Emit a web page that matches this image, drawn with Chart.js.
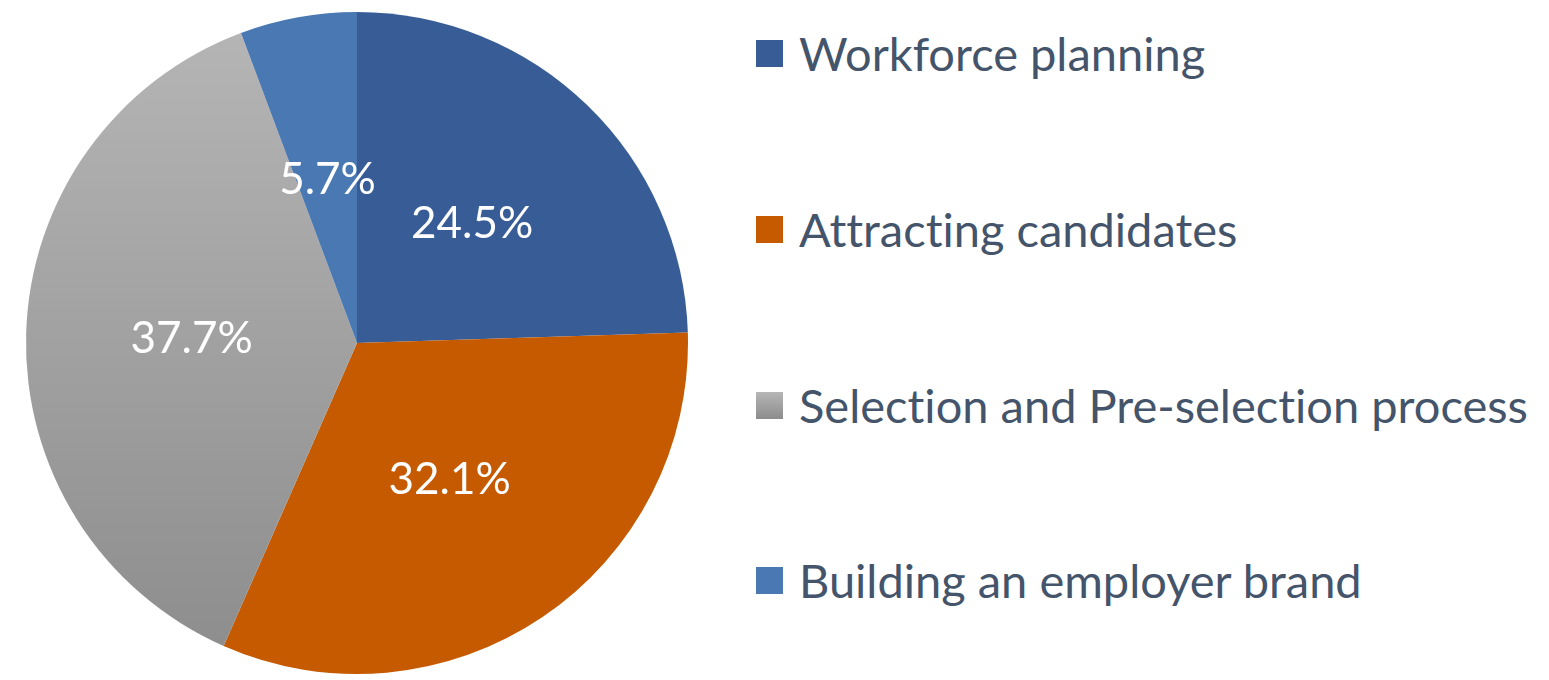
<!DOCTYPE html>
<html>
<head>
<meta charset="utf-8">
<script src="https://cdn.jsdelivr.net/npm/chart.js@4"></script>
<style>
  html, body { margin: 0; padding: 0; background: #fff; }
  body { width: 1549px; height: 680px; position: relative; overflow: hidden; font-family: Lato, "Open Sans", sans-serif; }
  #pieBox { position: absolute; left: 0; top: 0; width: 714px; height: 680px; }
  #legend { position: absolute; left: 756px; top: 0; }
  .item { position: absolute; white-space: nowrap; display: flex; align-items: center; font-size: 47px; color: #44546A; font-variant-ligatures: none; }
  .swatch { width: 27px; height: 27px; margin-right: 16px; flex: none; }
</style>
</head>
<body>
<div id="pieBox"><canvas id="pie"></canvas></div>
<div id="legend"></div>
<script>
const categories = ['Workforce planning', 'Attracting candidates', 'Selection and Pre-selection process', 'Building an employer brand'];
const shares = [24.5, 32.1, 37.7, 5.7];
const sliceColors = ['#385D96', '#C55A00', null, '#4A78B2'];

function grayGradient(ctx) {
  const g = ctx.createLinearGradient(0, 12, 0, 674);
  g.addColorStop(0, '#B6B6B6');
  g.addColorStop(1, '#8C8C8C');
  return g;
}

// draws the percentage in the middle of every slice
const sliceLabels = {
  id: 'sliceLabels',
  afterDatasetsDraw(chart) {
    const ctx = chart.ctx;
    const meta = chart.getDatasetMeta(0);
    ctx.save();
    ctx.fillStyle = '#fff';
    ctx.font = '44px Lato, "Open Sans", sans-serif';
    ctx.textAlign = 'center';
    ctx.textBaseline = 'middle';
    meta.data.forEach((arc, i) => {
      const p = arc.getCenterPoint();
      ctx.fillText(shares[i].toFixed(1) + '%', p.x, p.y);
    });
    ctx.restore();
  }
};

new Chart(document.getElementById('pie'), {
  type: 'pie',
  data: {
    labels: categories,
    datasets: [{
      data: shares,
      backgroundColor: (c) => sliceColors[c.dataIndex] || grayGradient(c.chart.ctx),
      borderWidth: 0
    }]
  },
  options: {
    responsive: true,
    maintainAspectRatio: false,
    animation: false,
    layout: { padding: { top: 12, bottom: 6, left: 26, right: 26 } },
    plugins: {
      legend: { display: false },
      tooltip: { enabled: false }
    }
  },
  plugins: [sliceLabels]
});

// legend on the right
const legend = document.getElementById('legend');
const rowY = [53, 229, 405, 580];
categories.forEach((name, i) => {
  const item = document.createElement('div');
  item.className = 'item';
  item.style.top = (rowY[i] - 28) + 'px';
  item.style.height = '56px';
  const sw = document.createElement('span');
  sw.className = 'swatch';
  sw.style.background = sliceColors[i] || 'linear-gradient(#B6B6B6, #8C8C8C)';
  const label = document.createElement('span');
  label.textContent = name;
  item.appendChild(sw);
  item.appendChild(label);
  legend.appendChild(item);
});
</script>
</body>
</html>
